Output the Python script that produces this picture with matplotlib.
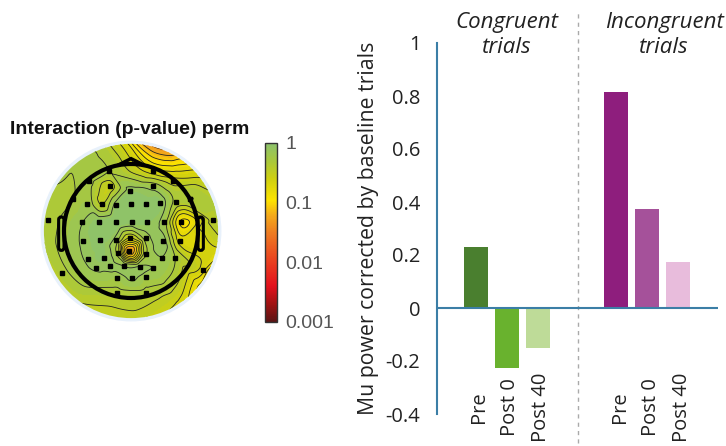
import numpy as np
import matplotlib
matplotlib.use("Agg")
import matplotlib.pyplot as plt
import matplotlib.tri as mtri
from matplotlib.colors import LinearSegmentedColormap, LogNorm, Normalize
from matplotlib.patches import Circle, Polygon, FancyBboxPatch
import matplotlib.cm as cm
import matplotlib.transforms as mtransforms

# ---------------- data ----------------
categories = ["Pre", "Post 0", "Post 40"]
congruent = [0.232, -0.226, -0.150]
incongruent = [0.815, 0.374, 0.173]
group_titles = ["Congruent\ntrials", "Incongruent\ntrials"]
y_ticks = [-0.4, -0.2, 0, 0.2, 0.4, 0.6, 0.8, 1]
y_ticklabels = ["-0.4", "-0.2", "0", "0.2", "0.4", "0.6", "0.8", "1"]
y_label = "Mu power corrected by baseline trials"

cb_ticks = [1, 0.1, 0.01, 0.001]
cb_ticklabels = ["1", "0.1", "0.01", "0.001"]
topo_title = "Interaction (p-value) perm"

# electrode positions (head radius = 1) and p-values
elec_x = [-0.33, 0.33, -0.62, 0.63,
          -0.32, -0.01, 0.33,
          -0.86, -0.65, -0.44, -0.22, 0.00, 0.22, 0.44, 0.67, 0.88,
          -1.24, -0.73, -0.48, -0.22, 0.01, 0.24, 0.49, 0.75, 1.23,
          -0.71, -0.46, -0.22, -0.02, 0.22, 0.48, 0.73,
          -0.64, -0.41, -0.20, -0.03, 0.23, 0.47, 1.08,
          -1.03, -0.52, -0.31, -0.11, 0.13, 0.33, 0.66,
          -0.21, 0.01, 0.23,
          -0.21, 0.23]
elec_y = [0.90, 0.90, 0.75, 0.74,
          0.67, 0.60, 0.67,
          0.48, 0.41, 0.40, 0.39, 0.40, 0.40, 0.42, 0.43, 0.48,
          0.16, 0.13, 0.13, 0.13, 0.14, 0.13, 0.13, 0.14, 0.16,
          -0.15, -0.14, -0.13, -0.10, -0.10, -0.15, -0.15,
          -0.42, -0.40, -0.33, -0.30, -0.35, -0.40, -0.58,
          -0.62, -0.55, -0.52, -0.52, -0.54, -0.55, -0.41,
          -0.70, -0.70, -0.69,
          -0.92, -0.92]
elec_p = [0.5, 0.2, 0.55, 0.3,
          0.3, 0.8, 0.6,
          0.5, 0.6, 0.35, 0.8, 0.9, 0.9, 0.85, 0.45, 0.5,
          0.45, 0.7, 0.9, 0.95, 0.9, 0.85, 0.6, 0.12, 0.4,
          0.75, 0.9, 0.6, 0.25, 0.6, 0.8, 0.22,
          0.75, 0.85, 0.45, 0.045, 0.5, 0.7, 0.2,
          0.45, 0.75, 0.8, 0.7, 0.75, 0.7, 0.5,
          0.6, 0.75, 0.6,
          0.45, 0.45]
# values on the rim of the map (angle in degrees)
edge_ang = [0, 20, 40, 55, 65, 75, 85, 95, 110, 130, 150, 170, 190, 210, 230, 250, 270, 290, 305, 320, 332, 345]
edge_p = [0.4, 0.4, 0.2, 0.08, 0.04, 0.035, 0.06, 0.2, 0.45, 0.5, 0.5, 0.45, 0.4, 0.35, 0.35, 0.3, 0.3, 0.25, 0.2, 0.1, 0.06, 0.2]

# ---------------- figure ----------------
W, H = 726, 446
fig = plt.figure(figsize=(W / 100, H / 100), dpi=100)

cmap = LinearSegmentedColormap.from_list("pmap", [
    (0.00, "#5a1414"),
    (0.10, "#a01212"),
    (0.20, "#e3101c"),
    (0.35, "#ea4420"),
    (0.50, "#ee7d22"),
    (0.60, "#f4ac1a"),
    (0.68, "#fde300"),
    (0.80, "#cfd010"),
    (0.90, "#a9c83c"),
    (1.00, "#8cc26e"),
])

# ---- topomap ----
cx, cy, R = 131, 231, 91  # pixel centre, half-size of axes
axt = fig.add_axes([(cx - R) / W, (H - cy - R) / H, 2 * R / W, 2 * R / H])
HR = 67.0  # head radius in pixels
lim = R / HR
axt.set_xlim(-lim, lim)
axt.set_ylim(-lim, lim)
axt.set_aspect("equal")
axt.axis("off")

rim = 1.30
ang = np.deg2rad(np.array(edge_ang, dtype=float))
all_x = np.concatenate([np.array(elec_x), 1.36 * np.cos(ang)])
all_y = np.concatenate([np.array(elec_y), 1.36 * np.sin(ang)])
all_z = np.log10(np.concatenate([np.array(elec_p), np.array(edge_p)]))

tri = mtri.Triangulation(all_x, all_y)
interp = mtri.CubicTriInterpolator(tri, all_z, kind="geom")
refiner = mtri.UniformTriRefiner(tri)
tri_f, z_f = refiner.refine_field(all_z, subdiv=4, triinterpolator=interp)
z_f = np.clip(z_f, -2.99, -0.001)

halo = Circle((0, 0), 1.35, facecolor="#e8f1fb", edgecolor="none", zorder=0)
axt.add_patch(halo)
clip = Circle((0, 0), rim, transform=axt.transData)
levels = np.linspace(-3, 0, 41)
cf = axt.tricontourf(tri_f, z_f, levels=levels, cmap=cmap, norm=Normalize(-3, 0),
                     extend="both", zorder=1)
cl = axt.tricontour(tri_f, z_f, levels=np.linspace(-3, 0, 21)[1:-1], colors="#222222",
                    linewidths=0.6, linestyles="solid", zorder=2)
cf.set_clip_path(clip)
cl.set_clip_path(clip)

axt.plot(elec_x, elec_y, "s", color="black", markersize=2.3, zorder=4)

# head outline
axt.add_patch(Circle((0, 0), 1.0, fill=False, edgecolor="black", linewidth=3, zorder=3))
axt.add_patch(Polygon([[-0.2, 0.98], [0.0, 1.08], [0.2, 0.98]], closed=False, fill=False,
                      edgecolor="black", linewidth=2.5, zorder=3))
for sgn in (-1, 1):
    axt.add_patch(FancyBboxPatch((sgn * 1.0 - (0.08 if sgn < 0 else 0.0), -0.29), 0.08, 0.5,
                                 boxstyle="round,pad=0.0,rounding_size=0.04",
                                 fill=False, edgecolor="black", linewidth=2.2, zorder=3))

fig.text(10 / W, 1 - 130 / H, topo_title, fontsize=14, fontweight="bold",
         family="Liberation Sans", va="center", ha="left", color="#111111")

# ---- colorbar ----
axc = fig.add_axes([265 / W, (H - 322) / H, 12 / W, 179 / H])
sm = cm.ScalarMappable(norm=LogNorm(1e-3, 1), cmap=cmap)
cb = fig.colorbar(sm, cax=axc)
cb.set_ticks(cb_ticks)
cb.set_ticklabels(cb_ticklabels)
cb.minorticks_off()
axc.tick_params(length=0, pad=6, labelsize=14, labelcolor="#555555")
for t in axc.get_yticklabels():
    t.set_family("Liberation Sans")
cb.outline.set_edgecolor("#333333")
cb.outline.set_linewidth(1.0)

# ---- bar chart ----
unit = 31.0
x0_pix = 476
left_pix, right_pix = 437, 718
top_pix, bot_pix = 43, 414
ax = fig.add_axes([left_pix / W, (H - bot_pix) / H, (right_pix - left_pix) / W, (bot_pix - top_pix) / H])
xlim = ((left_pix - x0_pix) / unit, (right_pix - x0_pix) / unit)
ax.set_xlim(*xlim)
ax.set_ylim(-0.4, 1.0)

pos_c = np.arange(len(categories))
pos_i = pos_c + 4.53
col_c = ["#4a7f2f", "#69b22e", "#bedb98"]
col_i = ["#8e1e7d", "#a5519a", "#e8bcdc"]
ax.bar(pos_c, congruent, width=0.77, color=col_c, zorder=2)
ax.bar(pos_i, incongruent, width=0.77, color=col_i, zorder=2)

axis_col = "#3b7ea6"
ax.axhline(0, color=axis_col, linewidth=1.5, zorder=3)
for s in ["top", "right", "bottom"]:
    ax.spines[s].set_visible(False)
ax.spines["left"].set_color(axis_col)
ax.spines["left"].set_linewidth(1.5)
ax.set_yticks(y_ticks)
ax.set_yticklabels(y_ticklabels)
ax.set_xticks([])
ax.tick_params(axis="y", length=0, pad=12, labelsize=14.5, labelcolor="#222222")
for t in ax.get_yticklabels():
    t.set_family("Open Sans")
ax.set_ylabel(y_label, fontsize=15.3, family="Open Sans", color="#222222", labelpad=5)

for p, lab in zip(list(pos_c) + list(pos_i), categories + categories):
    ax.text(p + 0.1, -0.374, lab, rotation=90, ha="center", va="center",
            fontsize=14.5, family="Open Sans", color="#222222")

sep_x = (578 - x0_pix) / unit
trans = mtransforms.blended_transform_factory(ax.transData, ax.transAxes)
ax.plot([sep_x, sep_x], [(bot_pix - 443) / (bot_pix - top_pix), (bot_pix - 12) / (bot_pix - top_pix)],
        transform=trans, color="#aaaaaa", linestyle=(0, (3, 3)), linewidth=1, clip_on=False)

ax.text(pos_c[1], 1.03, group_titles[0], ha="center", va="center", style="italic",
        fontsize=16, family="Open Sans", color="#222222", linespacing=1.25)
ax.text((664 - x0_pix) / unit, 1.03, group_titles[1], ha="center", va="center", style="italic",
        fontsize=16, family="Open Sans", color="#222222", linespacing=1.25, clip_on=False)

fig.savefig("out.png", dpi=100)
